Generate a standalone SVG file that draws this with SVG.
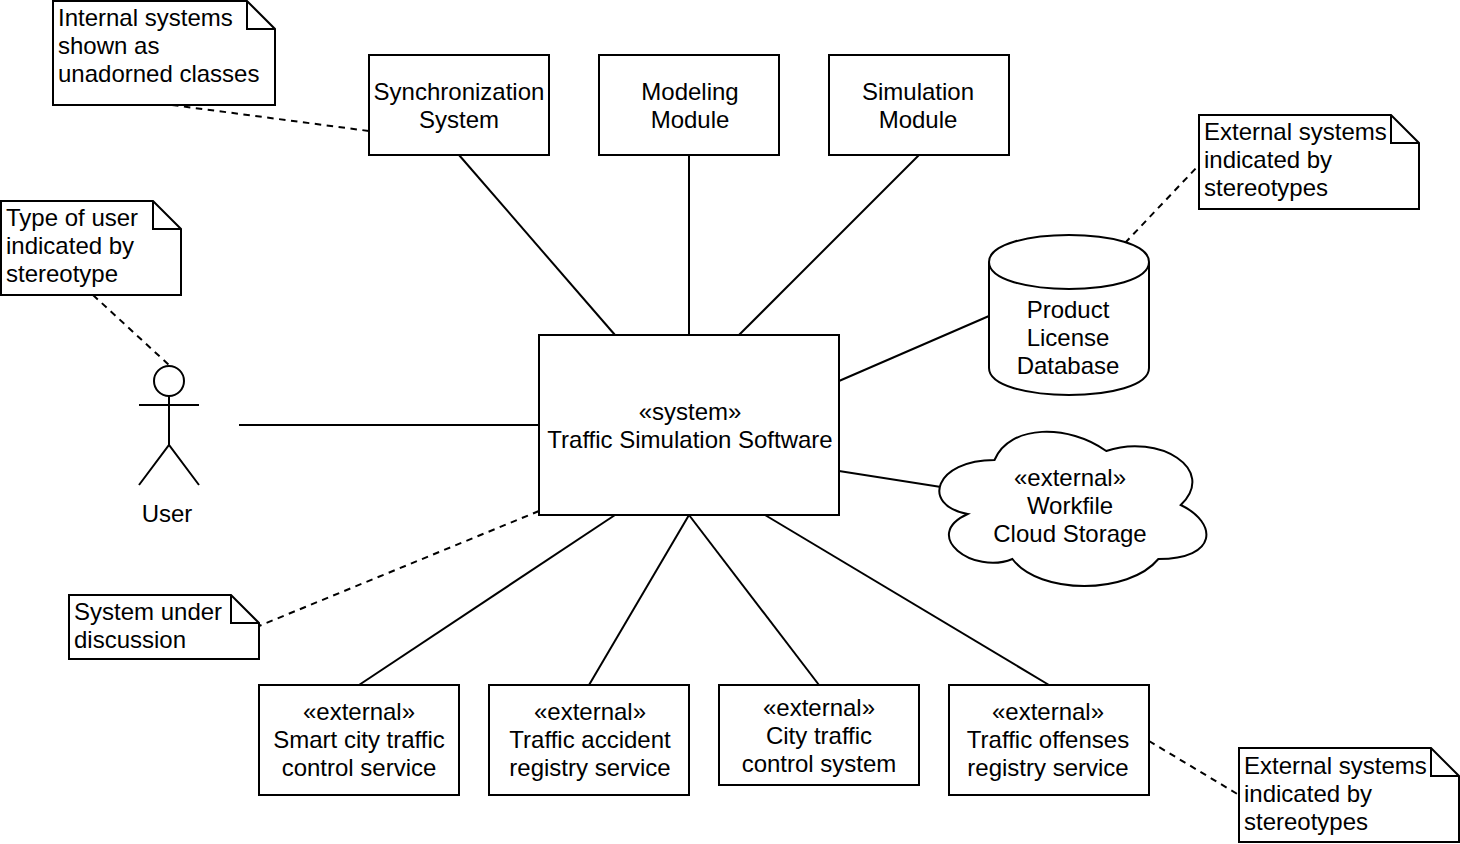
<svg xmlns="http://www.w3.org/2000/svg" width="1460" height="844" viewBox="0 0 1460 844">
<style>
.s{fill:#fff;stroke:#000;stroke-width:2}
.f{fill:none;stroke:#000;stroke-width:2}
.c{fill:none;stroke:#000;stroke-width:2}
.d{stroke-dasharray:6.5 5.5}
text{font-family:"Liberation Sans",Arial,sans-serif;font-size:24px;fill:#000}
.m{text-anchor:middle}
</style>
<rect width="1460" height="844" fill="#fff"/>
<g id="connectors">
<path class="c" d="M459 155L615 335"/>
<path class="c" d="M689 155V335"/>
<path class="c" d="M919 155L739 335"/>
<path class="c" d="M839 381L989 316"/>
<path class="c" d="M839 471L941 487"/>
<path class="c" d="M239 425H539"/>
<path class="c" d="M615 515L359 685"/>
<path class="c" d="M689 515L589 685"/>
<path class="c" d="M689 515L819 685"/>
<path class="c" d="M765 515L1049 685"/>
<path class="c d" d="M172 105L369 131"/>
<path class="c d" d="M93 295L169 365"/>
<path class="c d" d="M1125 243L1199 165"/>
<path class="c d" d="M539 511L259 626"/>
<path class="c d" d="M1149 741L1239 795"/>
</g>
<g id="sync"><rect class="s" x="369" y="55" width="180" height="100"/><text class="m" x="459" y="100">Synchronization</text><text class="m" x="459" y="128">System</text></g>
<g id="modeling"><rect class="s" x="599" y="55" width="180" height="100"/><text class="m" x="690" y="100">Modeling</text><text class="m" x="690" y="128">Module</text></g>
<g id="simulation"><rect class="s" x="829" y="55" width="180" height="100"/><text class="m" x="918" y="100">Simulation</text><text class="m" x="918" y="128">Module</text></g>
<g id="system"><rect class="s" x="539" y="335" width="300" height="180"/><text class="m" x="690" y="420">«system»</text><text class="m" x="690" y="448">Traffic Simulation Software</text></g>
<g id="database"><path class="s" d="M989 262C989 226 1149 226 1149 262V368C1149 404 989 404 989 368Z"/><path class="f" d="M989 262C989 298 1149 298 1149 262"/><text class="m" x="1068" y="318">Product</text><text class="m" x="1068" y="346">License</text><text class="m" x="1068" y="374">Database</text></g>
<g id="cloud"><path class="s" d="M994.5 460C934.9 460 920 505 967.7 514C920 535.6 973.6 575.2 1012.4 559C1039.2 595 1128.6 595 1158.4 559C1218 559 1218 523 1180.75 505C1218 469 1158.4 433 1106.25 451C1069 424 1009.4 424 994.5 460Z"/><text class="m" x="1070" y="486">«external»</text><text class="m" x="1070" y="514">Workfile</text><text class="m" x="1070" y="542">Cloud Storage</text></g>
<g id="user"><circle class="s" cx="169" cy="381" r="15"/><path class="f" d="M169 396V445M139 405H199M139 485L169 445L199 485"/><text class="m" x="167" y="522">User</text></g>
<g id="ext1"><rect class="s" x="259" y="685" width="200" height="110"/><text class="m" x="359" y="720">«external»</text><text class="m" x="359" y="748">Smart city traffic</text><text class="m" x="359" y="776">control service</text></g>
<g id="ext2"><rect class="s" x="489" y="685" width="200" height="110"/><text class="m" x="590" y="720">«external»</text><text class="m" x="590" y="748">Traffic accident</text><text class="m" x="590" y="776">registry service</text></g>
<g id="ext3"><rect class="s" x="719" y="685" width="200" height="100"/><text class="m" x="819" y="716">«external»</text><text class="m" x="819" y="744">City traffic</text><text class="m" x="819" y="772">control system</text></g>
<g id="ext4"><rect class="s" x="949" y="685" width="200" height="110"/><text class="m" x="1048" y="720">«external»</text><text class="m" x="1048" y="748">Traffic offenses</text><text class="m" x="1048" y="776">registry service</text></g>
<g id="note1"><path class="s" d="M53 1H247L275 29V105H53Z"/><path class="f" d="M247 1V29H275"/><text x="58" y="26">Internal systems</text><text x="58" y="54">shown as</text><text x="58" y="82">unadorned classes</text></g>
<g id="note2"><path class="s" d="M1 201H153L181 229V295H1Z"/><path class="f" d="M153 201V229H181"/><text x="6" y="226">Type of user</text><text x="6" y="254">indicated by</text><text x="6" y="282">stereotype</text></g>
<g id="note3"><path class="s" d="M1199 115H1391L1419 143V209H1199Z"/><path class="f" d="M1391 115V143H1419"/><text x="1204" y="140">External systems</text><text x="1204" y="168">indicated by</text><text x="1204" y="196">stereotypes</text></g>
<g id="note4"><path class="s" d="M69 595H231L259 623V659H69Z"/><path class="f" d="M231 595V623H259"/><text x="74" y="620">System under</text><text x="74" y="648">discussion</text></g>
<g id="note5"><path class="s" d="M1239 748H1431L1459 776V842H1239Z"/><path class="f" d="M1431 748V776H1459"/><text x="1244" y="774">External systems</text><text x="1244" y="802">indicated by</text><text x="1244" y="830">stereotypes</text></g>
</svg>
